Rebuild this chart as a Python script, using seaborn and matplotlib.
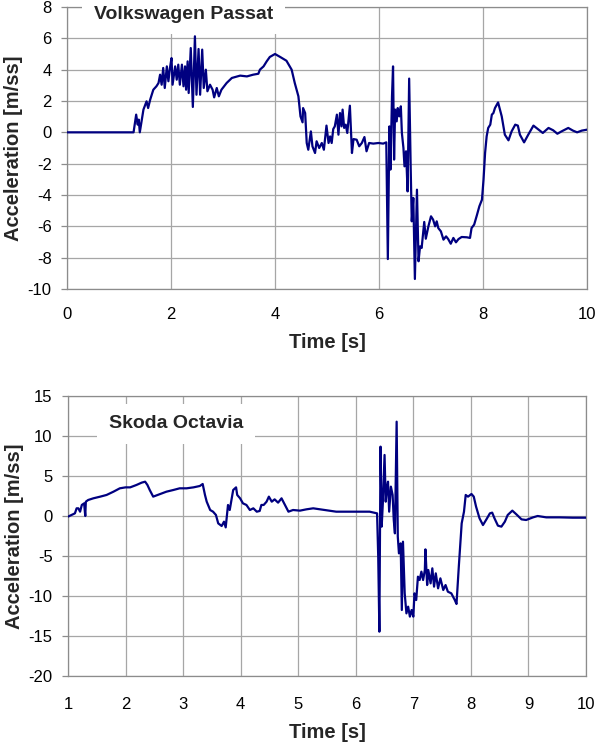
import numpy as np
import pandas as pd
import matplotlib
matplotlib.use("Agg")
import matplotlib.pyplot as plt
import seaborn as sns

# ---------------- data ----------------
vw_time = [0.00, 1.28, 1.33, 1.36, 1.38, 1.40, 1.47, 1.53, 1.56, 1.60, 1.66, 1.72, 1.76, 1.79,
           1.82, 1.85, 1.88, 1.92, 1.95, 1.98, 2.01, 2.03, 2.08, 2.11, 2.14, 2.17, 2.21, 2.24,
           2.27, 2.29, 2.32, 2.34, 2.38, 2.42, 2.46, 2.49, 2.53, 2.56, 2.60, 2.63, 2.67, 2.70,
           2.75, 2.80, 2.83, 2.88, 2.92, 2.97, 3.07, 3.17, 3.33, 3.46, 3.58, 3.68, 3.71, 3.78,
           3.84, 3.90, 4.00, 4.10, 4.22, 4.32, 4.38, 4.45, 4.49, 4.53, 4.54, 4.58, 4.61, 4.64,
           4.69, 4.72, 4.77, 4.80, 4.85, 4.90, 4.94, 4.99, 5.03, 5.06, 5.09, 5.12, 5.15, 5.19,
           5.22, 5.25, 5.28, 5.30, 5.33, 5.36, 5.39, 5.44, 5.48, 5.51, 5.57, 5.62, 5.67, 5.72,
           5.76, 5.81, 5.89, 5.99, 6.08, 6.14, 6.17, 6.20, 6.22, 6.25, 6.27, 6.29, 6.31, 6.34,
           6.36, 6.39, 6.42, 6.44, 6.47, 6.49, 6.52, 6.55, 6.58, 6.61, 6.63, 6.66, 6.69, 6.73,
           6.76, 6.79, 6.82, 6.87, 6.90, 6.95, 7.00, 7.04, 7.08, 7.11, 7.14, 7.19, 7.24, 7.29,
           7.33, 7.38, 7.43, 7.48, 7.53, 7.59, 7.69, 7.75, 7.78, 7.83, 7.88, 7.93, 7.98, 8.01,
           8.04, 8.07, 8.10, 8.14, 8.17, 8.20, 8.23, 8.29, 8.36, 8.42, 8.49, 8.55, 8.62, 8.67,
           8.71, 8.79, 8.87, 8.97, 9.07, 9.15, 9.26, 9.35, 9.43, 9.51, 9.64, 9.73, 9.81, 9.90,
           10.00]
vw_accel = [0.00, 0.00, 1.13, 0.49, 0.81, 0.00, 1.45, 1.98, 1.55, 2.09, 2.72, 2.94, 3.15, 3.68,
            3.04, 4.11, 2.83, 4.21, 3.26, 4.11, 4.74, 3.04, 4.21, 3.36, 4.32, 3.04, 4.32, 2.94,
            4.21, 2.72, 4.53, 2.51, 5.38, 1.62, 6.13, 2.40, 5.32, 2.40, 5.28, 2.83, 4.00, 2.62,
            3.04, 2.72, 2.23, 2.83, 2.30, 2.72, 3.15, 3.47, 3.62, 3.57, 3.68, 3.74, 4.00, 4.21,
            4.53, 4.81, 5.00, 4.81, 4.57, 4.00, 3.15, 2.30, 1.02, 0.64, 1.55, 1.23, -0.68, -1.11,
            0.06, -0.89, -1.32, -0.57, -1.00, -0.68, -1.11, 0.43, -0.68, -0.26, -0.68, 0.21, 0.38, 1.13,
            -0.15, 1.23, 0.38, 1.45, 0.28, 0.49, -0.04, 1.70, -1.32, -0.43, -0.47, -0.89, -0.68, -0.30,
            -1.21, -0.68, -0.72, -0.68, -0.72, -0.64, -8.09, 0.38, -2.38, 2.30, 4.21, -1.74, 1.45, 0.70,
            1.55, 1.02, 1.66, -0.04, -1.00, -2.17, -1.21, -3.77, 3.43, -2.38, -5.68, -4.19, -9.36, -3.66,
            -8.23, -7.28, -7.38, -5.72, -6.79, -6.00, -5.36, -5.57, -6.00, -5.68, -6.11, -6.32, -6.85, -6.64,
            -6.81, -7.11, -6.74, -7.02, -6.81, -6.68, -6.70, -6.74, -6.11, -5.89, -5.32, -4.72, -4.30, -3.02,
            -1.32, -0.26, 0.28, 0.49, 1.13, 1.23, 1.55, 1.91, 1.02, -0.15, -0.51, 0.06, 0.49, 0.43,
            -0.15, -0.64, -0.15, 0.43, 0.17, -0.04, 0.28, 0.13, -0.09, 0.06, 0.28, 0.11, 0.00, 0.11,
            0.17]

skoda_time = [1.00, 1.06, 1.12, 1.15, 1.18, 1.21, 1.24, 1.28, 1.30, 1.31, 1.35, 1.44, 1.56, 1.67,
              1.79, 1.90, 2.00, 2.08, 2.19, 2.28, 2.34, 2.38, 2.42, 2.48, 2.60, 2.71, 2.83, 2.94,
              3.06, 3.18, 3.29, 3.34, 3.38, 3.41, 3.47, 3.52, 3.57, 3.61, 3.67, 3.71, 3.74, 3.78,
              3.81, 3.84, 3.87, 3.92, 3.94, 3.99, 4.04, 4.10, 4.16, 4.22, 4.28, 4.33, 4.36, 4.40,
              4.45, 4.49, 4.54, 4.59, 4.65, 4.71, 4.77, 4.83, 4.91, 5.03, 5.14, 5.26, 5.38, 5.66,
              5.95, 6.24, 6.37, 6.39, 6.41, 6.43, 6.45, 6.47, 6.50, 6.52, 6.54, 6.56, 6.58, 6.61,
              6.64, 6.66, 6.68, 6.71, 6.73, 6.75, 6.78, 6.80, 6.82, 6.85, 6.88, 6.91, 6.94, 6.97,
              7.00, 7.02, 7.05, 7.08, 7.11, 7.14, 7.17, 7.20, 7.21, 7.24, 7.26, 7.30, 7.33, 7.36,
              7.39, 7.43, 7.47, 7.52, 7.56, 7.60, 7.66, 7.72, 7.75, 7.79, 7.84, 7.88, 7.91, 7.95,
              8.01, 8.05, 8.09, 8.15, 8.21, 8.27, 8.33, 8.37, 8.41, 8.47, 8.53, 8.59, 8.64, 8.72,
              8.79, 8.88, 8.96, 9.08, 9.16, 9.31, 9.54, 9.77, 10.00]
skoda_accel = [-0.08, 0.13, 0.33, 0.96, 0.96, 0.54, 1.38, 1.58, 0.00, 1.79, 2.00, 2.21, 2.42, 2.63,
               3.04, 3.46, 3.58, 3.58, 3.88, 4.17, 4.29, 3.88, 3.25, 2.42, 2.75, 3.04, 3.25, 3.46,
               3.46, 3.58, 3.75, 4.00, 2.63, 1.79, 0.75, 0.54, 0.13, -0.92, -1.25, -0.71, -1.42, 1.38,
               0.75, 2.00, 3.25, 3.58, 2.63, 2.21, 1.58, 1.38, 0.75, 0.96, 0.54, 0.63, 1.38, 1.38,
               1.79, 2.42, 1.79, 2.08, 1.67, 2.21, 1.38, 0.54, 0.75, 0.67, 0.83, 0.96, 0.83, 0.54,
               0.54, 0.54, 0.33, -5.08, -14.46, 8.67, -1.33, 1.58, 7.63, 1.79, 3.46, 4.29, 0.54, 3.67,
               2.63, -0.50, -2.17, 11.79, -2.58, -4.67, -3.42, -11.75, -3.21, -9.67, -12.17, -11.33, -12.58, -11.75,
               -12.58, -9.67, -10.50, -7.58, -8.00, -6.96, -8.00, -6.75, -4.17, -8.63, -6.75, -8.42, -6.54, -8.83,
               -7.17, -9.04, -7.79, -9.25, -8.63, -9.46, -9.67, -10.50, -11.00, -6.33, -0.92, 0.54, 2.63, 2.42,
               2.75, 2.42, 1.17, -0.29, -1.13, -0.42, 0.33, 0.42, -0.29, -1.21, -1.33, -0.71, 0.13, 0.67,
               0.21, -0.42, -0.50, -0.17, 0.00, -0.17, -0.17, -0.21, -0.21]

titles = ["Volkswagen Passat", "Skoda Octavia"]
x_label = "Time [s]"
y_label = "Acceleration [m/ss]"
vw_xticks = [0, 2, 4, 6, 8, 10]
vw_yticks = [-10, -8, -6, -4, -2, 0, 2, 4, 6, 8]
sk_xticks = [1, 2, 3, 4, 5, 6, 7, 8, 9, 10]
sk_yticks = [-20, -15, -10, -5, 0, 5, 10, 15]

# ---------------- style ----------------
sns.set_style("white")
plt.rcParams['font.family'] = ['Liberation Sans', 'DejaVu Sans']

LINE = "#000080"
GRID = "#a6a6a6"
SPINE = "#8c8c8c"

fig = plt.figure(figsize=(5.97, 7.43), dpi=100)
ax1 = fig.add_axes([67 / 597, 1 - 289 / 743, 520 / 597, 282 / 743])
ax2 = fig.add_axes([68 / 597, 1 - 676 / 743, 518 / 597, 280 / 743])

df_vw = pd.DataFrame({"t": vw_time, "a": vw_accel})
df_sk = pd.DataFrame({"t": skoda_time, "a": skoda_accel})

sns.lineplot(data=df_vw, x="t", y="a", ax=ax1, color=LINE, linewidth=1.6,
             estimator=None, sort=False, zorder=3)
sns.lineplot(data=df_sk, x="t", y="a", ax=ax2, color=LINE, linewidth=1.6,
             estimator=None, sort=False, zorder=3)

def style(ax, xticks, yticks, xlim, ylim, xpad, lpad):
    ax.set_xlim(*xlim)
    ax.set_ylim(*ylim)
    ax.set_xticks(xticks)
    ax.set_yticks(yticks)
    ax.set_xticklabels([str(v) for v in xticks])
    ax.set_yticklabels([str(v) for v in yticks])
    ax.grid(True, color=GRID, linewidth=0.9, zorder=0)
    ax.set_axisbelow(True)
    for s in ax.spines.values():
        s.set_color(SPINE)
        s.set_linewidth(0.9)
        s.set_visible(True)
    ax.tick_params(axis="x", length=0, pad=xpad, labelsize=12, colors="black")
    ax.tick_params(axis="y", length=4, width=0.9, color=SPINE, pad=7, labelsize=12,
                   labelcolor="black", left=True)
    ax.set_xlabel(x_label, fontsize=14.5, fontweight="bold", labelpad=lpad)
    ax.set_ylabel(y_label, fontsize=14.5, fontweight="bold")
    ax.yaxis.set_label_coords(-0.085, 0.5)

style(ax1, vw_xticks, vw_yticks, (0, 10), (-10, 8), 13, 8)
style(ax2, sk_xticks, sk_yticks, (1, 10), (-20, 15), 15, 8)

ax1.text(0.052, 0.975, titles[0], transform=ax1.transAxes, fontsize=14, fontweight="bold",
         ha="left", va="center", zorder=5,
         bbox=dict(boxstyle="square,pad=0.6", facecolor="white", edgecolor="none"))
ax2.text(0.079, 0.9, titles[1], transform=ax2.transAxes, fontsize=14, fontweight="bold",
         ha="left", va="center", zorder=5,
         bbox=dict(boxstyle="square,pad=0.6", facecolor="white", edgecolor="none"))

fig.savefig("out.png", dpi=100)
